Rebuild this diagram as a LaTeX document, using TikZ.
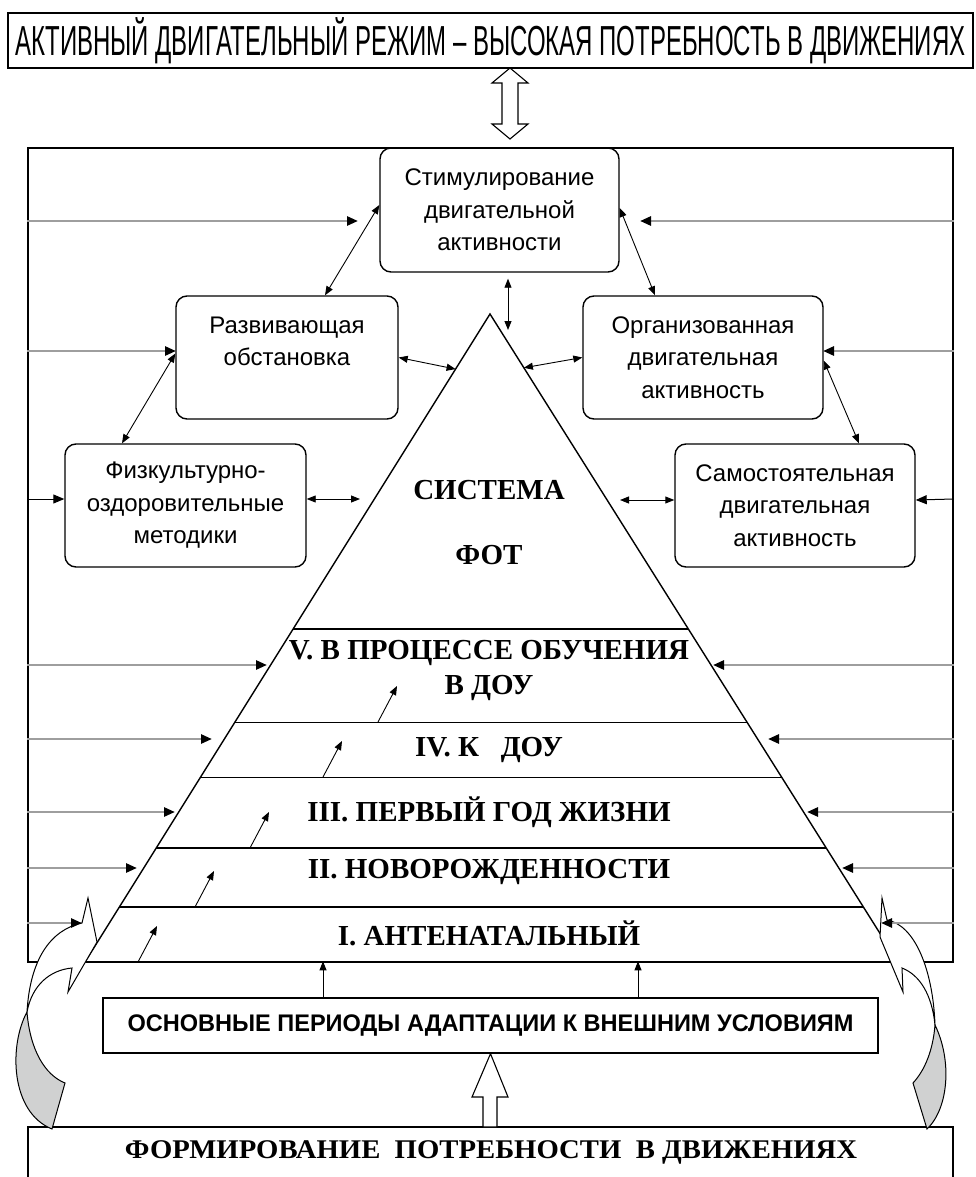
\documentclass[tikz,border=0pt]{standalone}
\usepackage{fontspec}
\setmainfont{Liberation Serif}
\setsansfont{Liberation Sans}
\usepackage{graphicx}
\usetikzlibrary{calc,positioning,arrows.meta,shapes}
\definecolor{feedgray}{HTML}{9E9E9E}
\definecolor{backgray}{HTML}{D0D1D1}
\tikzstyle{rbox}      = [draw, line width=1.4pt, rounded corners=11pt, align=center,
                         font=\sffamily\fontsize{24}{32.5}\selectfont,
                         minimum width=240pt, minimum height=123pt, inner sep=2pt]
\tikzstyle{plainbox}  = [draw, line width=1.4pt, inner sep=0pt]
\tikzstyle{feed}      = [line width=2.6pt, draw=feedgray, -{Triangle[length=11pt,width=9pt,color=black]}]
\tikzstyle{feedblack} = [line width=1pt, -{Triangle[length=11pt,width=9pt]}]
\tikzstyle{link}      = [line width=0.9pt, {Triangle[length=9pt,width=7pt]}-{Triangle[length=9pt,width=7pt]}]
\tikzstyle{rise}      = [line width=0.9pt, -{Triangle[length=9pt,width=7pt]}]
\tikzstyle{level}     = [font=\bfseries\fontsize{29}{35}\selectfont, align=center, inner sep=0pt]
\tikzstyle{hollow}    = [line width=1.1pt, fill=white, line join=miter]

\begin{document}
\begin{tikzpicture}[x=1pt, y=-1pt]
	\useasboundingbox (0,0) rectangle (975,1177);

	% outer frame and the banner on top
	\node[plainbox, minimum width=965pt, minimum height=55pt, font=\sffamily\fontsize{42}{42}\selectfont] (banner) at (490.5,40.5)
		{\resizebox{950pt}{\height}{АКТИВНЫЙ ДВИГАТЕЛЬНЫЙ РЕЖИМ – ВЫСОКАЯ ПОТРЕБНОСТЬ В ДВИЖЕНИЯХ}};
	\node[plainbox, minimum width=925pt, minimum height=814pt] (frame) at (490.5,555) {};

	\draw[hollow] (510,68) -- (528,83) -- (518,83) -- (518,124) -- (528,124) -- (510,139)
		-- (492,124) -- (502,124) -- (502,83) -- (492,83) -- cycle;

	% boxes round the pyramid
	\node[rbox, minimum width=239pt, minimum height=124pt] (stim) at (499.5,210) {Стимулирование\\двигательной\\активности};
	\node[rbox, minimum width=222pt] (razv) at (287,357.5) {Развивающая\\обстановка\\~};
	\node[rbox] (org) at (703,357.5) {Организованная\\двигательная\\активность};
	\node[rbox, minimum width=241pt] (fiz) at (185.5,505.5) {Физкультурно-\\оздоровительные\\методики};
	\node[rbox] (sam) at (795,505.5) {Самостоятельная\\двигательная\\активность};

	% pyramid
	\coordinate (apex) at (490,314);
	\coordinate (bl) at (85,962);
	\coordinate (br) at (898,962);
	\draw[line width=1.4pt] (bl) -- (apex) -- (br);
	\foreach \t in {0.486,0.630,0.715,0.824,0.915}
		\draw[line width=1.2pt] ($(apex)!\t!(bl)$) -- ($(apex)!\t!(br)$);

	\coordinate (pl) at ($(apex)!0.085!(bl)$);
	\coordinate (pr) at ($(apex)!0.083!(br)$);
	\coordinate (ptop) at (508,330);
	\coordinate (fizr) at (360,499);
	\coordinate (saml) at (620,500);

	% links between the boxes
	\draw[link] ([yshift=5pt]stim.west) -- ([xshift=38pt]razv.north);
	\draw[link] ([yshift=2pt]stim.east) -- ([xshift=-48pt]org.north);
	\draw[link] ([xshift=8.5pt,yshift=-6pt]stim.south) -- (ptop);
	\draw[link] (razv.east) -- (pl);
	\draw[link] (org.west) -- (pr);
	\draw[link] ([yshift=4pt]razv.west) -- ([xshift=-63.5pt]fiz.north);
	\draw[link] ([yshift=-3pt]org.east) -- ([xshift=64pt]sam.north);
	\draw[link] ([yshift=6.5pt]fiz.east) -- (fizr);
	\draw[link] ([yshift=5.5pt]sam.west) -- (saml);

	% bottom part
	\node[plainbox, minimum width=775pt, minimum height=55pt, font=\sffamily\bfseries\fontsize{24}{24}\selectfont] (osn) at (490.5,1025.5)
		{\resizebox{726pt}{\height}{ОСНОВНЫЕ ПЕРИОДЫ АДАПТАЦИИ К ВНЕШНИМ УСЛОВИЯМ}};
	\draw[line width=1.4pt] (28,1180) |- (953,1127) -- (953,1180);
	\node[font=\bfseries\fontsize{27}{27}\selectfont, inner sep=0pt] (form) at (491,1152)
		{\resizebox{732pt}{\height}{ФОРМИРОВАНИЕ\ \ ПОТРЕБНОСТИ\ \ В ДВИЖЕНИЯХ}};
	\draw[hollow] (osn.south) -- (508,1097) -- (497,1097) -- (497,1127) -- (483,1127)
		-- (483,1097) -- (472,1097) -- cycle;
	\draw[rise] ([xshift=-167.5pt]osn.north) -- ++(0,-36);
	\draw[rise] ([xshift=147.5pt]osn.north) -- ++(0,-36);

	% curved arrows at both sides
	\draw[line width=1pt, fill=backgray] (27,1012) .. controls (9,1045) and (10,1112) .. (52,1129)
		-- (65,1083) .. controls (45,1075) and (30,1050) .. (27,1012) -- cycle;
	\draw[line width=1pt, fill=white, line join=miter] (27,1012) .. controls (30,960) and (50,930) .. (82,923)
		-- (88,898) -- (97,942) -- (68,992) -- (72,968) .. controls (50,970) and (32,985) .. (27,1012) -- cycle;
	\draw[line width=1pt, fill=backgray] (935,1025) .. controls (952,1060) and (949,1108) .. (927,1129)
		-- (913,1083) .. controls (925,1070) and (933,1050) .. (935,1025) -- cycle;
	\draw[line width=1pt, fill=white, line join=miter] (935,1025) .. controls (933,970) and (915,925) .. (887,920)
		-- (882,898) -- (880,937) -- (903,992) -- (902,968) .. controls (920,975) and (932,995) .. (935,1025) -- cycle;

	% feeding lines from the frame
	\foreach \y/\xl/\xr in {221/358/640, 351/176/823, 665/267/713, 739/212/768, 812/175/807, 868/137/842, 923/82/881} {
		\draw[feed] (frame.west |- 0,\y) -- (\xl,\y);
		\draw[feed] (frame.east |- 0,\y) -- (\xr,\y);
	}
	\draw[feedblack] (frame.west |- 0,499) -- ([yshift=6.5pt]fiz.west);
	\draw[feedblack] (frame.east |- 0,499) -- ([yshift=5.5pt]sam.east);

	% small arrows inside the pyramid
	\foreach \x/\y in {378/722, 323/777, 250/848, 195/907, 138/962}
		\draw[rise] (\x,\y) -- ++(19,-36);

	% labels of the pyramid
	\node[level] (sys) at (489,490) {СИСТЕМА};
	\node[level] (fot) at (489,555) {ФОТ};
	\node[level] (r5) at (489,670) {V. В ПРОЦЕССЕ ОБУЧЕНИЯ\\В ДОУ};
	\node[level] (r4) at (489,750) {IV. К~~~ДОУ};
	\node[level] (r3) at (489,812) {III. ПЕРВЫЙ ГОД ЖИЗНИ};
	\node[level] (r2) at (489,872) {II. НОВОРОЖДЕННОСТИ};
	\node[level] (r1) at (489,933) {I. АНТЕНАТАЛЬНЫЙ};
\end{tikzpicture}
\end{document}
